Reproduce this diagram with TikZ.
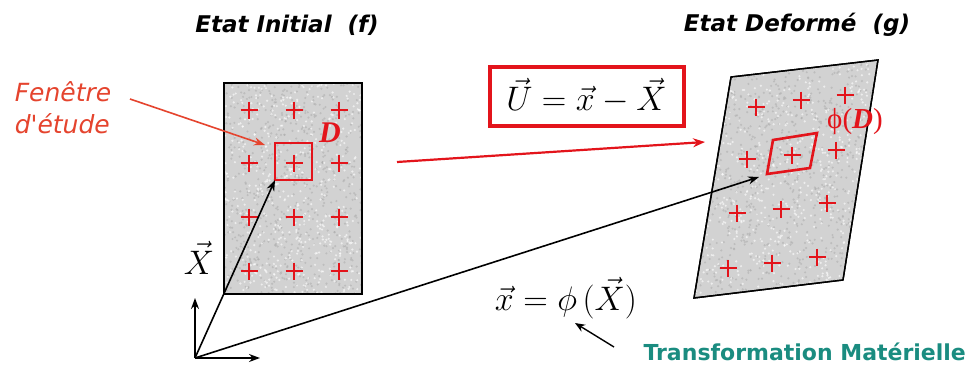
\RequirePackage{fix-cm}
\documentclass[tikz,border=0pt]{standalone}
\usepackage{amsmath}
\usepackage{fontspec}
\newfontfamily\comic{DejaVu Sans}
\newfontfamily\timesf{Liberation Serif}
\usetikzlibrary{arrows.meta}
\definecolor{redA}{HTML}{E3141B}
\definecolor{orangeA}{HTML}{E5442E}
\definecolor{tealA}{HTML}{1A8C80}
\definecolor{matfill}{HTML}{D2D2D2}
\tikzset{
  title/.style={font=\comic\bfseries\itshape\fontsize{23}{26}\selectfont, text=black},
  fen/.style={font=\comic\itshape\fontsize{25}{32}\selectfont, text=orangeA, align=left},
  mat/.style={draw=black, line width=1.4pt, fill=matfill},
  crs/.style={draw=redA, line width=2.8pt},
  win/.style={draw=redA, line width=2.6pt},
  vec/.style={draw=black, line width=1.6pt, -{Stealth[length=11pt,width=8pt]}},
  redarrow/.style={draw=redA, line width=2.2pt, -{Stealth[length=12pt,width=9pt]}},
  formbox/.style={draw=redA, line width=4pt, minimum width=194pt, minimum height=59pt, inner sep=0pt},
  lbl/.style={font=\fontsize{34}{40}\selectfont},
  dlbl/.style={font=\timesf\bfseries\itshape\fontsize{30}{34}\selectfont, text=redA},
}
\newcommand{\crossat}[2]{\draw[crs] (#1-8.5,#2) -- (#1+8.5,#2) (#1,#2-8.5) -- (#1,#2+8.5);}
\begin{document}
\begin{tikzpicture}[x=1pt,y=-1pt]
\useasboundingbox (0,0) rectangle (972,372);
\fill[white] (0,0) rectangle (972,372);

% titles
\node[title] (t1) at (287,25) {Etat Initial\ \ (f)};
\node[title] (t2) at (797,25) {Etat Deformé\ \ (g)};

% left material block
\coordinate (L1) at (224,83);
\coordinate (L2) at (362,83);
\coordinate (L3) at (362,294);
\coordinate (L4) at (224,294);
\draw[mat] (L1) -- (L2) -- (L3) -- (L4) -- cycle;
\begin{scope}
\clip (L1) -- (L2) -- (L3) -- (L4) -- cycle;
\pgfmathsetseed{7}
\foreach \i in {1,...,700}{
  \pgfmathsetmacro{\px}{224+138*rnd}
  \pgfmathsetmacro{\py}{83+211*rnd}
  \fill[gray!65, opacity=0.55] (\px,\py) circle (1.2pt);
}
\foreach \i in {1,...,500}{
  \pgfmathsetmacro{\px}{224+138*rnd}
  \pgfmathsetmacro{\py}{83+211*rnd}
  \fill[white, opacity=0.6] (\px,\py) circle (1.2pt);
}
\end{scope}
\draw[draw=black, line width=1.4pt] (L1) -- (L2) -- (L3) -- (L4) -- cycle;

% right material block
\coordinate (R1) at (731,77);
\coordinate (R2) at (878,60);
\coordinate (R3) at (843,280);
\coordinate (R4) at (694,298);
\draw[mat] (R1) -- (R2) -- (R3) -- (R4) -- cycle;
\begin{scope}
\clip (R1) -- (R2) -- (R3) -- (R4) -- cycle;
\pgfmathsetseed{11}
\foreach \i in {1,...,900}{
  \pgfmathsetmacro{\px}{694+184*rnd}
  \pgfmathsetmacro{\py}{60+238*rnd}
  \fill[gray!65, opacity=0.55] (\px,\py) circle (1.2pt);
}
\foreach \i in {1,...,650}{
  \pgfmathsetmacro{\px}{694+184*rnd}
  \pgfmathsetmacro{\py}{60+238*rnd}
  \fill[white, opacity=0.6] (\px,\py) circle (1.2pt);
}
\end{scope}
\draw[draw=black, line width=1.4pt] (R1) -- (R2) -- (R3) -- (R4) -- cycle;

% left crosses
\foreach \y in {110,163,217,271}{
  \foreach \x in {249,294,339}{
    \crossat{\x}{\y}
  }
}
% left window
\coordinate (W1) at (275,143);
\coordinate (W2) at (312,143);
\coordinate (W3) at (312,180);
\coordinate (W4) at (275,180);
\draw[win] (W1) -- (W2) -- (W3) -- (W4) -- cycle;
\node[dlbl] (D) at (330,133) {D};

% right crosses
\crossat{756}{107}
\crossat{801}{100}
\crossat{845}{95}
\crossat{747}{159}
\crossat{792}{155}
\crossat{836}{150}
\crossat{737}{213}
\crossat{781}{209}
\crossat{827}{203}
\crossat{728}{268}
\crossat{772}{263}
\crossat{817}{257}
% right window
\coordinate (V1) at (773,140);
\coordinate (V2) at (817,133);
\coordinate (V3) at (810,168);
\coordinate (V4) at (767,174);
\draw[win] (V1) -- (V2) -- (V3) -- (V4) -- cycle;
\node[font=\timesf\fontsize{29}{32}\selectfont, text=redA] (phiD) at (855,122) {ϕ(\textbf{\textit{D}})};

% Fenetre d'etude
\node[fen] (fen) at (63,108) {Fenêtre\\d'étude};
\coordinate (fenA) at (130,99);
\coordinate (fenB) at (265,145);
\draw[draw=orangeA, line width=1.6pt, -{Stealth[length=11pt,width=8pt]}] (fenA) -- (fenB);

% formula box
\node[formbox, lbl] (U) at (586.5,96) {$\vec{U} = \vec{x} - \vec{X}$};

% red arrow between states
\coordinate (ra) at (397,162);
\coordinate (rb) at (705,142);
\draw[redarrow] (ra) -- (rb);

% origin and axes
\coordinate (O) at (195,358);
\coordinate (Ay) at (195,298);
\coordinate (Ax) at (260,358);
\draw[vec] (O) -- (Ay);
\draw[vec] (O) -- (Ax);
\draw[vec] (O) -- (W4);
\coordinate (xt) at (759,177);
\draw[vec] (O) -- (xt);
\node[lbl] (Xl) at (199,258) {$\vec{X}$};

% x = phi(X)
\node[lbl] (xeq) at (566,298) {$\vec{x} = \phi\,(\vec{X})$};

% Transformation materielle
\node[font=\comic\bfseries\fontsize{22}{26}\selectfont, text=tealA, anchor=west] (tm) at (640,352) {Transformation Matérielle};
\coordinate (tmA) at (614,347);
\coordinate (tmB) at (575,323);
\draw[draw=black, line width=1.4pt, -{Stealth[length=10pt,width=8pt]}] (tmA) -- (tmB);
\end{tikzpicture}
\end{document}
